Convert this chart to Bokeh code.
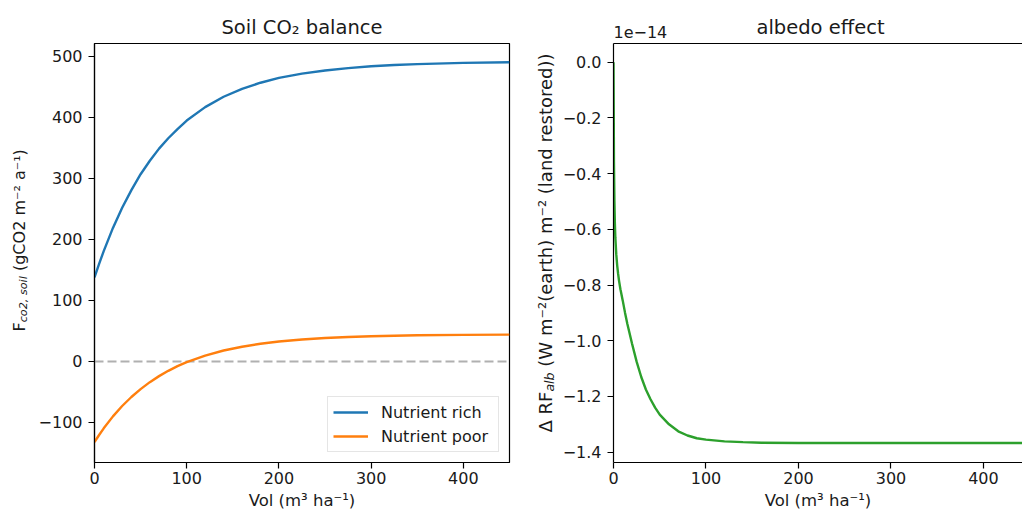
import math
from bokeh.plotting import figure
from bokeh.models import (Range1d, FixedTicker, Label, Span, Legend, LegendItem,
                          LinearAxis, CustomJSTickFormatter)
from bokeh.layouts import row, column
from bokeh.embed import file_html
from bokeh.resources import INLINE

# ---------------- data ----------------
vol_soil = [0, 5, 10, 20, 30, 40, 50, 60, 70, 80, 90, 100, 120, 140, 160, 180,
            200, 225, 250, 275, 300, 325, 350, 400, 450]
nutrient_rich = [138, 160, 181, 219, 252, 281, 307, 329, 349, 366, 381, 395, 417,
                 434, 447, 457, 465, 472, 477, 481, 484, 486, 487.5, 489.5, 490.5]
nutrient_poor = [-132, -120.5, -109.6, -90, -73, -58.2, -45.3, -33.9, -24, -15.3,
                 -7.7, -1.2, 9.6, 18, 24.2, 29, 32.7, 36.1, 38.5, 40.2, 41.4, 42.3,
                 43, 43.7, 44.1]

vol_albedo = [0, 0.5, 1, 1.5, 2, 3, 4, 5, 6, 7.5, 10, 12.5, 15, 17.5, 20, 25, 30,
              35, 40, 45, 50, 60, 70, 80, 90, 100, 120, 140, 160, 200, 250, 300,
              350, 400, 450]
# values in units of 1e-14
albedo_rf_e14 = [0, -0.36, -0.5, -0.58, -0.63, -0.69, -0.73, -0.76, -0.785, -0.815,
                 -0.856, -0.90, -0.94, -0.975, -1.01, -1.075, -1.13, -1.175, -1.21,
                 -1.24, -1.265, -1.30, -1.325, -1.34, -1.35, -1.355, -1.361, -1.364,
                 -1.366, -1.367, -1.367, -1.367, -1.367, -1.367, -1.367]

x_ticks = [0, 100, 200, 300, 400]
soil_y_ticks = [-100, 0, 100, 200, 300, 400, 500]
albedo_y_ticks = [-1.4, -1.2, -1.0, -0.8, -0.6, -0.4, -0.2, 0.0]

series_labels = ["Nutrient rich", "Nutrient poor"]
series_colors = ["#1f77b4", "#ff7f0e"]

# ---------------- styling ----------------
FONT = "DejaVu Sans"
TXT = "#1a1a1a"
H = 514
TOP = 43
FH = 419
BOT = H - TOP - FH
a90 = math.pi / 2
SHIFT = 6  # empirical baseline correction of Label text


def style_axis(ax, ticks, fmt_digits, standoff):
    ax.ticker = FixedTicker(ticks=ticks, minor_ticks=[])
    ax.formatter = CustomJSTickFormatter(
        code="return (tick < 0 ? '\u2212' : '') + Math.abs(tick).toFixed(%d);" % fmt_digits)
    ax.major_tick_out = 6
    ax.major_tick_in = 0
    ax.minor_tick_line_color = None
    ax.axis_line_color = "black"
    ax.axis_line_width = 1.2
    ax.major_tick_line_color = "black"
    ax.major_tick_line_width = 1.2
    ax.major_label_text_font = FONT
    ax.major_label_text_font_size = "16px"
    ax.major_label_text_color = TXT
    ax.major_label_standoff = standoff
    ax.axis_label_text_font = FONT
    ax.axis_label_text_font_size = "16.5px"
    ax.axis_label_text_font_style = "normal"
    ax.axis_label_text_color = TXT
    ax.axis_label_standoff = 4


def text_panel(width, height):
    """A bare figure whose frame is its whole canvas, used to hold free text."""
    t = figure(width=width, height=height, output_backend="svg",
               toolbar_location=None, title=None, x_axis_location=None,
               y_axis_location=None, x_range=Range1d(0, 1), y_range=Range1d(0, 1),
               min_border_left=0, min_border_right=0, min_border_top=0,
               min_border_bottom=0)
    t.grid.visible = False
    t.outline_line_color = None
    t.background_fill_color = "white"
    t.border_fill_color = "white"
    return t


def add_text(p, text, x, y, size, angle=0.0, align="left", style="normal"):
    p.add_layout(Label(x=x, y=y, x_units="canvas", y_units="canvas", text=text,
                       angle=angle, text_align=align, text_baseline="alphabetic",
                       text_font=FONT, text_font_size="%gpx" % size,
                       text_font_style=style, text_color=TXT))


# ---------------- left y label ----------------
ylab1 = text_panel(34, H)
bx, by = 24.7 - SHIFT, 331
add_text(ylab1, "F", bx, by, 16, angle=a90)
by -= 0.575 * 16
add_text(ylab1, "co2, soil", bx + 4, by, 11.2, angle=a90, style="italic")
by -= 4.123 * 11.2 + 0.318 * 16
add_text(ylab1, "(gCO2 m\u207b\u00b2 a\u207b\u00b9)", bx, by, 16, angle=a90)

# ---------------- left: soil CO2 ----------------
p1 = figure(width=486, height=H, output_backend="svg", toolbar_location=None,
            title="Soil CO\u2082 balance", x_range=Range1d(0, 450),
            y_range=Range1d(-165.6, 521.3),
            min_border_left=60, min_border_right=11, min_border_top=TOP,
            min_border_bottom=BOT)
p1.grid.visible = False
p1.outline_line_color = "black"
p1.outline_line_width = 1.2
p1.background_fill_color = "white"
p1.border_fill_color = "white"
p1.title.align = "center"
p1.title.text_font = FONT
p1.title.text_font_size = "19.5px"
p1.title.text_font_style = "normal"
p1.title.text_color = TXT
p1.title.standoff = 9
style_axis(p1.xaxis[0], x_ticks, 0, 3)
style_axis(p1.yaxis[0], soil_y_ticks, 0, 6)
p1.xaxis[0].axis_label = "Vol (m\u00b3 ha\u207b\u00b9)"

p1.add_layout(Span(location=0, dimension="width", line_color="#b0b0b0",
                   line_dash="9 4", line_width=2, level="underlay"))

r_rich = p1.line(vol_soil, nutrient_rich, line_color=series_colors[0], line_width=2.4)
r_poor = p1.line(vol_soil, nutrient_poor, line_color=series_colors[1], line_width=2.4)

legend = Legend(items=[LegendItem(label=series_labels[0], renderers=[r_rich]),
                       LegendItem(label=series_labels[1], renderers=[r_poor])],
                location="bottom_right", margin=10, padding=5, spacing=4,
                glyph_width=35, glyph_height=20, label_height=20, label_width=112,
                label_standoff=13, label_text_font=FONT,
                label_text_font_size="16px", label_text_color=TXT,
                border_line_color="#cccccc", border_line_width=1,
                background_fill_color="white", background_fill_alpha=0.8)
p1.add_layout(legend)

# ---------------- right y label ----------------
ylab2 = text_panel(38, H)
bx, by = 31.0 - SHIFT, 432
add_text(ylab2, "\u0394 RF", bx, by, 18, angle=a90)
by -= 2.272 * 18
add_text(ylab2, "alb", bx + 4, by, 12.6, angle=a90, style="italic")
by -= 1.526 * 12.6 + 0.318 * 18
add_text(ylab2, "(W m\u207b\u00b2(earth) m\u207b\u00b2 (land restored))", bx, by, 18,
         angle=a90)

# ---------------- right: albedo ----------------
P2W = 464
top2 = text_panel(P2W, TOP)
add_text(top2, "albedo effect", 262, 33 - SHIFT, 19.5, align="center")
add_text(top2, "1e\u221214", 55, 37.7 - SHIFT, 16, align="left")

p2 = figure(width=P2W, height=H - TOP, output_backend="svg", toolbar_location=None,
            title=None, x_range=Range1d(0, 442.2), y_range=Range1d(-1.437, 0.067),
            min_border_left=55, min_border_right=0, min_border_top=0,
            min_border_bottom=BOT)
p2.grid.visible = False
p2.outline_line_color = None
p2.background_fill_color = "white"
p2.border_fill_color = "white"
style_axis(p2.xaxis[0], x_ticks, 0, 3)
style_axis(p2.yaxis[0], albedo_y_ticks, 1, 6)
p2.xaxis[0].axis_label = "Vol (m\u00b3 ha\u207b\u00b9)"
top_axis = LinearAxis(ticker=FixedTicker(ticks=[]), major_tick_line_color=None,
                      major_tick_out=0, major_tick_in=0,
                      minor_tick_line_color=None, minor_tick_out=0, minor_tick_in=0,
                      major_label_text_font_size="0px", major_label_standoff=0,
                      axis_line_color="black", axis_line_width=1.2)
p2.add_layout(top_axis, "above")

p2.line(vol_albedo, albedo_rf_e14, line_color="#2ca02c", line_width=2.4)

layout = row(ylab1, p1, ylab2, column(top2, p2))
open("out.html", "w").write(file_html(layout, INLINE))
